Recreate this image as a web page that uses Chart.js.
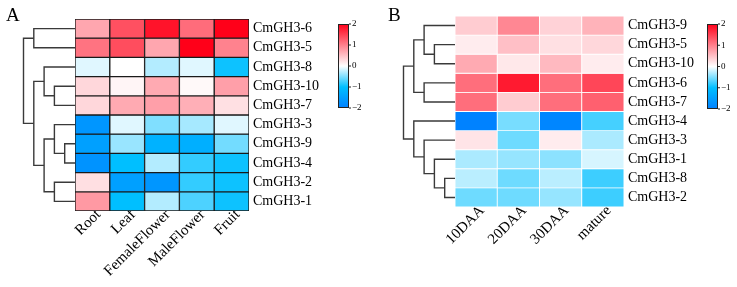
<!DOCTYPE html>
<html>
<head>
<meta charset="utf-8">
<script src="https://cdn.jsdelivr.net/npm/chart.js@4.4.1/dist/chart.umd.min.js"></script>
<style>
    body { margin: 0; background: #fff; }
    #wrap { position: relative; width: 737px; height: 287px; }
    #wrap canvas { position: absolute; top: 0; }
</style>
</head>
<body>
<div id="wrap">
    <canvas id="chartA" width="370" height="287" style="left:0"></canvas>
    <canvas id="chartB" width="367" height="287" style="left:370px"></canvas>
</div>
<script>
// Panel A: tissues
const tissues = ['Root', 'Leaf', 'FemaleFlower', 'MaleFlower', 'Fruit'];
const genesA = ['CmGH3-6', 'CmGH3-5', 'CmGH3-8', 'CmGH3-10', 'CmGH3-7', 'CmGH3-3', 'CmGH3-9', 'CmGH3-4', 'CmGH3-2', 'CmGH3-1'];
const valuesA = [
    [0.7, 1.37, 1.85, 1.15, 2.0],
    [1.1, 1.4, 0.7, 2.0, 0.98],
    [-0.12, 0.0, -0.3, -0.12, -0.95],
    [0.31, 0.08, 0.67, 0.05, 0.75],
    [0.31, 0.67, 0.75, 0.63, 0.24],
    [-1.65, -0.12, -0.5, -0.35, -0.12],
    [-1.5, -0.4, -1.2, -1.25, -0.55],
    [-1.7, -1.0, -0.3, -0.8, -0.95],
    [0.25, -1.5, -1.65, -0.8, -0.95],
    [0.8, -1.0, -0.3, -0.7, -0.95]
];
// Panel B: fruit stages
const stages = ['10DAA', '20DAA', '30DAA', 'mature'];
const genesB = ['CmGH3-9', 'CmGH3-5', 'CmGH3-10', 'CmGH3-6', 'CmGH3-7', 'CmGH3-4', 'CmGH3-3', 'CmGH3-1', 'CmGH3-8', 'CmGH3-2'];
const valuesB = [
    [0.4, 0.94, 0.35, 0.6],
    [0.15, 0.5, 0.24, 0.31],
    [0.67, 0.18, 0.55, 0.15],
    [1.14, 1.8, 1.14, 1.45],
    [1.14, 0.4, 1.14, 1.25],
    [-1.97, -0.53, -1.9, -0.73],
    [0.21, -0.57, 0.15, -0.33],
    [-0.33, -0.41, -0.45, -0.16],
    [-0.27, -0.57, -0.27, -0.76],
    [-0.57, -0.57, -0.41, -0.76]
];
const legendTicks = [2, 1, 0, -1, -2];

// cluster trees: [left, right, level]; numbers = row index, 'mK' = K-th merge
const treeA = [
    [0, 1, 4], [3, 4, 2], [2, 'm1', 3], [6, 7, 1], [5, 'm3', 2],
    [8, 9, 2], ['m4', 'm5', 3], ['m2', 'm6', 4], ['m0', 'm7', 5]
];
const treeB = [
    [1, 2, 2], [0, 'm0', 3], [3, 4, 3], ['m1', 'm2', 4], [8, 9, 1],
    [7, 'm4', 2], [6, 'm5', 3], [5, 'm6', 4], ['m3', 'm7', 5]
];

const colorStops = [[-2, [0, 128, 255]], [-1, [0, 191, 255]], [0, [255, 255, 255]], [2, [255, 0, 25]]];
function heatColor(v) {
    v = Math.max(-2, Math.min(2, v));
    for (let i = 0; i < colorStops.length - 1; i++) {
        const [a, ca] = colorStops[i], [b, cb] = colorStops[i + 1];
        if (v <= b) {
            const t = (v - a) / (b - a);
            const c = ca.map((x, k) => Math.round(x + (cb[k] - x) * t));
            return 'rgb(' + c.join(',') + ')';
        }
    }
}

const serif = 'Liberation Serif';

const extras = {
    id: 'extras',
    afterDraw(chart, args, o) {
        const ctx = chart.ctx;
        const ys = chart.scales.y;
        const left = chart.chartArea.left;
        const n = o.rows;
        ctx.save();
        // dendrogram
        ctx.strokeStyle = '#3a3a3a';
        ctx.lineWidth = 1.4;
        const pos = {};
        const nodeXY = id => typeof id === 'number' ? { x: left, y: ys.getPixelForValue(n - 0.5 - id) } : pos[id];
        o.tree.forEach((m, k) => {
            const a = nodeXY(m[0]), b = nodeXY(m[1]);
            const x = left - m[2] * o.levelPx;
            ctx.beginPath();
            ctx.moveTo(a.x, a.y);
            ctx.lineTo(x, a.y);
            ctx.lineTo(x, b.y);
            ctx.lineTo(b.x, b.y);
            ctx.stroke();
            pos['m' + k] = { x: x, y: (a.y + b.y) / 2 };
        });
        // colour bar
        const cb = o.bar;
        const g = ctx.createLinearGradient(0, cb.bottom, 0, cb.top);
        colorStops.forEach(s => g.addColorStop((s[0] + 2) / 4, heatColor(s[0])));
        ctx.fillStyle = g;
        ctx.fillRect(cb.left, cb.top, cb.width, cb.bottom - cb.top);
        ctx.strokeStyle = '#222';
        ctx.lineWidth = 1;
        ctx.strokeRect(cb.left + 0.5, cb.top + 0.5, cb.width - 1, cb.bottom - cb.top - 1);
        ctx.fillStyle = '#000';
        ctx.font = '9px "' + serif + '"';
        ctx.textBaseline = 'middle';
        ctx.textAlign = 'left';
        legendTicks.forEach(t => {
            const y = cb.top + (2 - t) / 4 * (cb.bottom - cb.top);
            ctx.beginPath();
            ctx.moveTo(cb.left + cb.width, y);
            ctx.lineTo(cb.left + cb.width + 2, y);
            ctx.stroke();
            ctx.fillText(t < 0 ? '\u2212' + (-t) : String(t), cb.left + cb.width + 3, y);
        });
        // panel letter
        ctx.font = '19px "' + serif + '"';
        ctx.textBaseline = 'alphabetic';
        ctx.fillText(o.letter, o.letterX, 21);
        ctx.restore();
    }
};

function heatmap(id, cols, genes, values, opt) {
    const n = genes.length;
    new Chart(document.getElementById(id), {
        type: 'bar',
        data: {
            labels: cols,
            datasets: genes.map((g, i) => ({
                label: g,
                data: cols.map(() => [n - 1 - i, n - i]),
                backgroundColor: values[i].map(heatColor),
                borderColor: opt.gridColor,
                borderWidth: opt.gridWidth,
                borderSkipped: false,
                barPercentage: 1,
                categoryPercentage: 1,
                grouped: false
            }))
        },
        options: {
            responsive: false,
            animation: false,
            layout: { padding: { left: opt.left, top: opt.top, right: 0, bottom: 0 } },
            plugins: {
                legend: { display: false },
                tooltip: { enabled: false },
                extras: { rows: n, tree: opt.tree, levelPx: 10.3, bar: opt.bar, letter: opt.letter, letterX: opt.letterX }
            },
            scales: {
                x: {
                    grid: { display: false, drawTicks: false },
                    border: { display: false },
                    afterFit: s => { s.height = opt.xHeight; },
                    ticks: { autoSkip: false, maxRotation: 45, minRotation: 45, padding: -5, labelOffset: 6, color: '#000', font: { family: serif, size: 15 } }
                },
                y: {
                    min: 0,
                    max: n,
                    position: 'right',
                    grid: { display: false, drawTicks: false },
                    border: { display: false },
                    afterBuildTicks: s => { s.ticks = genes.map((g, i) => ({ value: n - 0.5 - i })); },
                    afterFit: s => { s.width = opt.yWidth; },
                    ticks: { autoSkip: false, padding: 4, color: '#000', font: { family: serif, size: 14 }, callback: (v, i) => genes[i] }
                }
            }
        },
        plugins: [extras]
    });
}

heatmap('chartA', tissues, genesA, valuesA, {
    left: 75, top: 19, xHeight: 76, yWidth: 121,
    gridColor: '#1a1a1a', gridWidth: 1, tree: treeA,
    bar: { left: 338, top: 24, width: 11, bottom: 108 }, letter: 'A', letterX: 6
});
heatmap('chartB', stages, genesB, valuesB, {
    left: 85, top: 16, xHeight: 80, yWidth: 113,
    gridColor: '#ffffff', gridWidth: 0.8, tree: treeB,
    bar: { left: 337, top: 24, width: 11, bottom: 109 }, letter: 'B', letterX: 18
});
</script>
</body>
</html>
